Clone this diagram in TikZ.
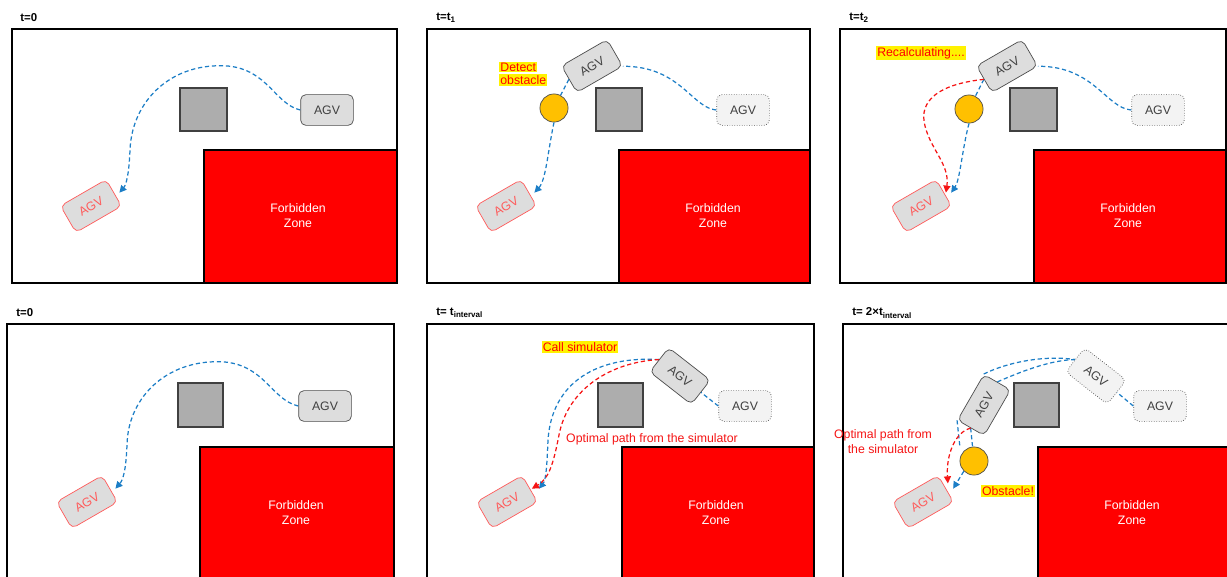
\documentclass[tikz,border=0pt]{standalone}
\usepackage{fontspec}
\setmainfont{Liberation Sans}
\usetikzlibrary{arrows.meta}
\definecolor{pathblue}{RGB}{28,126,198}
\definecolor{agvgray}{RGB}{221,221,221}
\definecolor{ghostgray}{RGB}{243,243,243}
\definecolor{blockgray}{RGB}{173,173,173}
\definecolor{obstyellow}{RGB}{255,192,0}
\definecolor{agvred}{RGB}{255,90,90}
\definecolor{pathred}{RGB}{245,20,20}
\begin{document}
\begin{tikzpicture}[x=0.02cm,y=-0.02cm,
	agv/.style={draw=black!70,fill=agvgray,rounded corners=3pt,minimum width=30pt,minimum height=17.5pt,inner sep=0pt,text=black!75,font=\fontsize{7}{8}\selectfont},
	agvghost/.style={agv,densely dotted,fill=ghostgray},
	agvgoal/.style={agv,draw=agvred,text=agvred,rotate=30},
	obst/.style={circle,draw=black!70,fill=obstyellow,minimum size=16pt,inner sep=0pt},
	block/.style={draw=black!75,fill=blockgray,line width=0.6pt},
	zone/.style={draw=black,fill=red,line width=0.6pt},
	zonetext/.style={text=white,align=center,font=\fontsize{7}{8.5}\selectfont},
	frame/.style={draw=black,line width=0.6pt},
	title/.style={anchor=west,inner sep=0pt,font=\bfseries\fontsize{6.5}{7}\selectfont},
	hl/.style={fill=yellow,text=red,inner sep=0.6pt,font=\fontsize{7}{8}\selectfont},
	note/.style={text=pathred,align=center,inner sep=0pt,font=\fontsize{7}{8.5}\selectfont},
	bluepath/.style={draw=pathblue,line width=0.7pt,dash pattern=on 2.4pt off 1.6pt},
	redpath/.style={draw=pathred,line width=0.7pt,dash pattern=on 2.4pt off 1.6pt},
	tip/.style={-{Triangle[length=4pt,width=4pt]}}]
	\clip (0,0) rectangle (1227,576);
	% t=0 (top)
	\node[title] (title1) at (20,18) {t=0};
	\draw[frame] (12,29) rectangle (397,283);
	\draw[block] (180,88) rectangle (227,131);
	\draw[zone] (204,150) rectangle (397,283);
	\node[zonetext] (zone1) at (298,216) {Forbidden\\Zone};
	\node[agv] (sA1) at (327,110) {AGV};
	\node[agvgoal] (eA1) at (91,206) {AGV};
	\draw[bluepath,tip] (sA1.west) .. controls (275,104) and (268,70) .. (228,66) .. controls (172,62) and (132,100) .. (130,150) .. controls (129,175) and (126,185) .. ([xshift=3pt]eA1.east);
	% t=t1
	\node[title] (title2) at (436,18) {t=t\textsubscript{1}};
	\draw[frame] (427,29) rectangle (810,283);
	\draw[block] (596,88) rectangle (642,131);
	\draw[zone] (619,150) rectangle (810,283);
	\node[zonetext] (zone2) at (713,216) {Forbidden\\Zone};
	\node[agvghost] (oA2) at (743,110) {AGV};
	\node[agv,rotate=30] (mA2) at (592,66) {AGV};
	\node[obst] (ob2) at (554,108) {};
	\node[agvgoal] (eA2) at (506,206) {AGV};
	\node[hl,anchor=west] (det2) at (499,67) {Detect};
	\node[hl,anchor=west] (obs2) at (499,80) {obstacle};
	\draw[bluepath] (oA2.west) .. controls (692,108) and (680,66) .. (mA2.south east);
	\draw[bluepath] (mA2.west) -- (ob2);
	\draw[bluepath,tip] (ob2.south) .. controls (548,150) and (546,180) .. ([xshift=3pt]eA2.east);
	% t=t2
	\node[title] (title3) at (849,18) {t=t\textsubscript{2}};
	\draw[frame] (840,29) rectangle (1226,283);
	\draw[block] (1010,88) rectangle (1057,131);
	\draw[zone] (1034,150) rectangle (1226,283);
	\node[zonetext] (zone3) at (1128,216) {Forbidden\\Zone};
	\node[agvghost] (oA3) at (1158,110) {AGV};
	\node[agv,rotate=30] (mA3) at (1007,66) {AGV};
	\node[obst] (ob3) at (969,109) {};
	\node[agvgoal] (eA3) at (921,206) {AGV};
	\node[hl] (recalc3) at (921,53) {Recalculating....};
	\draw[bluepath] (oA3.west) .. controls (1106,108) and (1094,66) .. (mA3.south east);
	\draw[bluepath] (mA3.west) -- (ob3);
	\draw[bluepath,tip] (ob3.south) .. controls (962,150) and (960,180) .. ([xshift=4pt]eA3.east);
	\draw[redpath,tip] (mA3.west) .. controls (940,84) and (918,100) .. (925,126) .. controls (931,150) and (950,165) .. ([xshift=1pt]eA3.east);
	% t=0 (bottom)
	\node[title] (title4) at (16,313) {t=0};
	\draw[frame] (7,324) rectangle (394,600);
	\draw[block] (178,383) rectangle (223,427);
	\draw[zone] (200,447) rectangle (394,600);
	\node[zonetext] (zone4) at (296,513) {Forbidden\\Zone};
	\node[agv] (sA4) at (325,406) {AGV};
	\node[agvgoal] (eA4) at (87,502) {AGV};
	\draw[bluepath,tip] (sA4.west) .. controls (272,400) and (265,366) .. (225,362) .. controls (170,358) and (128,395) .. (127,445) .. controls (126,470) and (123,480) .. ([xshift=3pt]eA4.east);
	% t=t_interval
	\node[title] (title5) at (436,313) {t= t\textsubscript{interval}};
	\draw[frame] (427,324) rectangle (814,600);
	\draw[block] (598,383) rectangle (643,427);
	\draw[zone] (622,447) rectangle (814,600);
	\node[zonetext] (zone5) at (716,513) {Forbidden\\Zone};
	\node[agvghost] (oA5) at (745,406) {AGV};
	\node[agv,rotate=-38] (mA5) at (680,376) {AGV};
	\node[agvgoal] (eA5) at (507,502) {AGV};
	\node[hl] (call5) at (580,347) {Call simulator};
	\node[note] (opt5) at (652,439) {Optimal path from the simulator};
	\draw[bluepath] (oA5.west) -- (mA5.east);
	\draw[bluepath,tip] (mA5.west) .. controls (600,356) and (552,380) .. (548,440) .. controls (547,465) and (546,480) .. ([xshift=5pt]eA5.east);
	\draw[redpath,tip] (mA5.west) .. controls (612,362) and (568,388) .. (559,435) .. controls (554,460) and (550,478) .. ([xshift=1pt]eA5.east);
	% t=2 x t_interval
	\node[title] (title6) at (852,313) {t= 2×t\textsubscript{interval}};
	\draw[frame] (843,324) rectangle (1240,600);
	\draw[block] (1014,383) rectangle (1059,427);
	\draw[zone] (1038,447) rectangle (1240,600);
	\node[zonetext] (zone6) at (1132,513) {Forbidden\\Zone};
	\node[agvghost] (oA6) at (1160,406) {AGV};
	\node[agvghost,rotate=-38] (iA6) at (1096,376) {AGV};
	\node[agv,rotate=60] (cA6) at (984,405) {AGV};
	\node[obst] (ob6) at (974,461) {};
	\node[agvgoal] (eA6) at (923,502) {AGV};
	\node[hl] (obst6) at (1008,491) {Obstacle!};
	\node[note] (opt6) at (883,442) {Optimal path from\\the simulator};
	\coordinate (b6) at (960,448);
	\draw[bluepath] (oA6.west) -- (iA6.east);
	\draw[bluepath] (cA6.north east) .. controls (1008,362) and (1045,355) .. (iA6.west);
	\draw[bluepath] (cA6.east) .. controls (1020,372) and (1050,360) .. (iA6.west);
	\draw[bluepath] (cA6.north west) -- (b6);
	\draw[bluepath] (cA6.west) -- (ob6);
	\draw[bluepath,tip] (ob6.south west) -- ([xshift=4pt]eA6.east);
	\draw[redpath,tip] (cA6.west) .. controls (955,432) and (946,455) .. ([xshift=1pt,yshift=3pt]eA6.east);
\end{tikzpicture}
\end{document}
